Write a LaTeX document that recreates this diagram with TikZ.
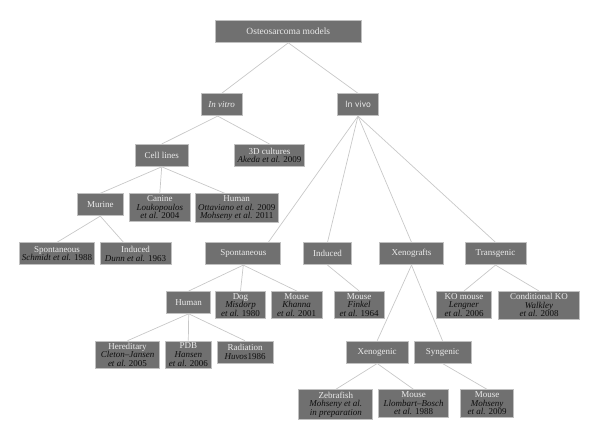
\documentclass[tikz,border=0pt]{standalone}
\usepackage{fontspec}
\setmainfont{Liberation Serif}
\newfontfamily\vivofont{PT Sans}
\definecolor{boxgray}{RGB}{112,112,112}
\definecolor{edgegray}{RGB}{192,192,192}
\definecolor{linegray}{RGB}{200,200,200}
\definecolor{ink}{RGB}{15,15,15}
\newcommand{\srcline}[1]{\textcolor{ink}{#1}}
\begin{document}
\begin{tikzpicture}[
	  x=1pt, y=-1pt,
	  box/.style={draw=edgegray, fill=boxgray, text=white!92!black, anchor=north, align=center,
	    minimum width=#1, minimum height=22pt, inner xsep=2pt, inner ysep=2pt, line width=0.8pt,
	    font=\fontsize{9}{8.6}\selectfont},
	  box/.default=40,
	  link/.style={draw=linegray, line width=0.7pt}]
	  \useasboundingbox (0,0) rectangle (600,441);
	  \node[box=146] (root) at (288.3, 20) {\fontsize{9.5}{9.5}\selectfont Osteosarcoma models};
	  \node[box=41] (vitro) at (221.7, 93.3) {\textit{In vitro}};
	  \node[box=41] (vivo) at (358, 93.3) {\vivofont In vivo};
	  \node[box=53] (cells) at (161.7, 144) {Cell lines};
	  \node[box=70] (cult3d) at (269.5, 144) {3D cultures\\ \srcline{\textit{Akeda et al.} 2009}};
	  \node[box=46] (murine) at (100.3, 193.3) {Murine};
	  \node[box=61] (canine) at (159.8, 193.3) {Canine\\ \srcline{\textit{Loukopoulos}}\\ \srcline{\textit{et al.} 2004}};
	  \node[box=83] (humancl) at (236.7, 193.3) {Human\\ \srcline{\textit{Ottaviano et al.} 2009}\\ \srcline{\textit{Mohseny et al.} 2011}};
	  \node[box=74] (spmur) at (57, 242.3) {Spontaneous\\ \srcline{\textit{Schmidt et al.} 1988}};
	  \node[box=71] (indmur) at (135.5, 242.3) {Induced\\ \srcline{\textit{Dunn et al.} 1963}};
	  \node[box=75] (spviv) at (243.3, 242.3) {Spontaneous};
	  \node[box=48] (indviv) at (327.5, 242.3) {Induced};
	  \node[box=64] (xeno) at (411.5, 242.3) {Xenografts};
	  \node[box=61] (transg) at (495.5, 242.3) {Transgenic};
	  \node[box=44] (humansp) at (188.7, 291) {Human};
	  \node[box=50] (dog) at (240.5, 291) {Dog\\ \srcline{\textit{Misdorp}}\\ \srcline{\textit{et al.} 1980}};
	  \node[box=51] (mousesp) at (296.7, 291) {Mouse\\ \srcline{\textit{Khanna}}\\ \srcline{\textit{et al.} 2001}};
	  \node[box=50] (mousefin) at (359.2, 291) {Mouse\\ \srcline{\textit{Finkel}}\\ \srcline{\textit{et al.} 1964}};
	  \node[box=55] (komouse) at (464, 291) {KO mouse\\ \srcline{\textit{Lengner}}\\ \srcline{\textit{et al.} 2006}};
	  \node[box=81] (condko) at (539, 291) {Conditional KO\\ \srcline{\textit{Walkley}}\\ \srcline{\textit{et al.} 2008}};
	  \node[box=64] (hered) at (127.5, 340.7) {Hereditary\\ \srcline{\textit{Cleton--Jansen}}\\ \srcline{\textit{et al.} 2005}};
	  \node[box=46] (pdb) at (188.3, 340.7) {PDB\\ \srcline{\textit{Hansen}}\\ \srcline{\textit{et al.} 2006}};
	  \node[box=56] (radiat) at (245, 340.7) {Radiation\\ \srcline{\textit{Huvos}1986}};
	  \node[box=62] (xenog) at (377.2, 340.7) {Xenogenic};
	  \node[box=57] (syng) at (442.5, 340.7) {Syngenic};
	  \node[box=74] (zebra) at (335.8, 389.3) {Zebrafish\\ \srcline{\textit{Mohseny et al.}}\\ \srcline{\textit{in preparation}}};
	  \node[box=70] (mousell) at (413.5, 389.3) {Mouse\\ \srcline{\textit{Llombart--Bosch}}\\ \srcline{\textit{et al.} 1988}};
	  \node[box=53] (mousemoh) at (487, 389.3) {Mouse\\ \srcline{\textit{Mohseny}}\\ \srcline{\textit{et al.} 2009}};
	  \draw[link] (root.south) -- (vitro.north);
	  \draw[link] (root.south) -- (vivo.north);
	  \draw[link] ([xshift=-4pt]vitro.south) -- (cells.north);
	  \draw[link] ([xshift=-4pt]vitro.south) -- (cult3d.north);
	  \draw[link] (cells.south) -- (murine.north);
	  \draw[link] (cells.south) -- (canine.north);
	  \draw[link] (cells.south) -- ([xshift=-12pt]humancl.north);
	  \draw[link] (murine.south) -- (spmur.north);
	  \draw[link] (murine.south) -- ([xshift=-12pt]indmur.north);
	  \draw[link] (vivo.south) -- ([xshift=25pt]spviv.north);
	  \draw[link] (vivo.south) -- (indviv.north);
	  \draw[link] (vivo.south) -- (xeno.north);
	  \draw[link] (vivo.south) -- (transg.north);
	  \draw[link] (spviv.south) -- (humansp.north);
	  \draw[link] (spviv.south) -- (dog.north);
	  \draw[link] (spviv.south) -- (mousesp.north);
	  \draw[link] (humansp.south) -- (hered.north);
	  \draw[link] (humansp.south) -- (pdb.north);
	  \draw[link] (humansp.south) -- (radiat.north);
	  \draw[link] (indviv.south) -- (mousefin.north);
	  \draw[link] (xeno.south) -- (xenog.north);
	  \draw[link] (xeno.south) -- (syng.north);
	  \draw[link] (transg.south) -- (komouse.north);
	  \draw[link] (transg.south) -- (condko.north);
	  \draw[link] (xenog.south) -- (zebra.north);
	  \draw[link] (xenog.south) -- (mousell.north);
	  \draw[link] (syng.south) -- (mousemoh.north);
	\end{tikzpicture}
\end{document}
